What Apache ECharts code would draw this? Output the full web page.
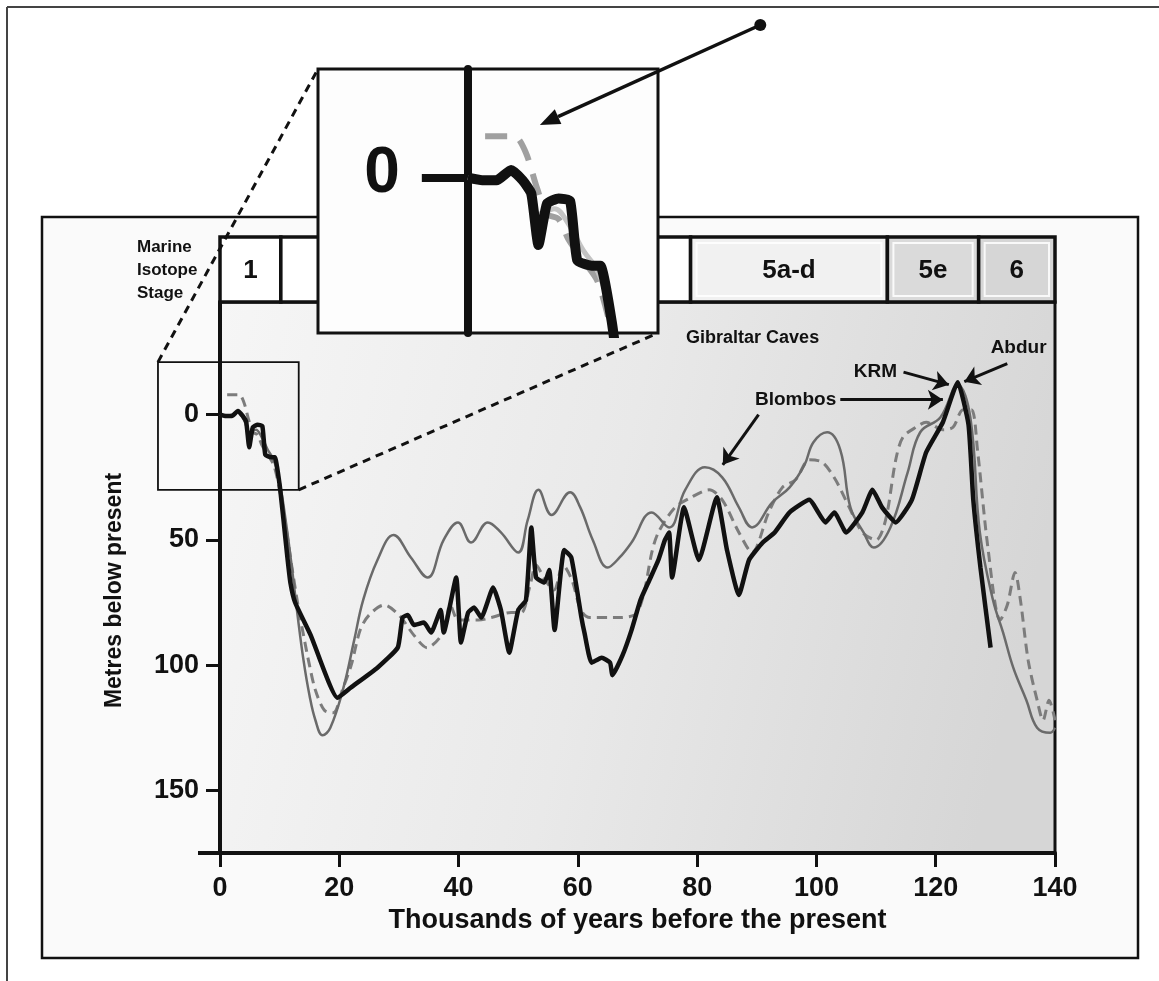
<!DOCTYPE html>
<html>
<head>
<meta charset="utf-8">
<script src="https://cdn.jsdelivr.net/npm/echarts@6/dist/echarts.min.js"></script>
<style>
  html, body { margin: 0; padding: 0; background: #ffffff; }
  #chart { width: 1159px; height: 981px; }
</style>
</head>
<body>
<div id="chart"></div>
<script>
// Sea level reconstructions: [thousands of years before present, metres below present]
const blackCurve = [
  [0,0],[1,0.5],[2,0.5],[3,-1.5],[3.8,0.5],[4.4,3],[4.9,13],[5.5,5],[6.3,4],[7.1,4.5],[7.6,16],[8.6,17],[9.2,17],
  [10,28],[10.6,41],[11.3,57],[11.8,67],[12.6,75],[15.2,88],[19.7,113],[21.9,109],[26.4,101],[29.8,93],[30.6,81],
  [31.5,80],[32.5,84],[34.2,83],[35.4,87],[37,78],[37.5,87],[39.6,65],[40.4,91],[41.6,79],[42.6,77],[43.8,81],
  [45.8,69],[47.1,78],[48.5,95],[50,78],[51.3,74],[52.2,45],[53,65],[54.4,67],[55.2,62],[56.1,86],[57.7,54],
  [58.9,57],[60.6,81],[61.1,87],[62.3,99],[64,97],[65.4,99],[65.8,104],[67.5,96],[69,86],[70.5,74],[72,66],
  [73.5,58],[74.6,50],[75.3,47],[75.8,65],[77.8,37],[80.3,58],[83.3,33],[85,54],[87,72],[88.7,58],[91,51],
  [93,47],[95.5,39],[98.8,34],[101.5,43],[103,39],[105,47],[107.7,39],[109.4,30],[111,37],[113.3,43],[116,34],
  [118.4,15],[121.2,3],[123.7,-13],[125.5,4],[126.3,34],[127.5,61],[129.2,93]
];
const greyCurve = [
  [0,0],[1,0.5],[2,0],[3,-1],[4,2],[5,7],[6,6],[7,9],[8,14],[9,18],[10,27],[11,42],[12,60],[13,80],[14,98],
  [15,112],[16,122],[17.2,128],[18.5,125],[20.7,109],[22.5,90],[24,74],[26.4,58],[29.1,48],[32,57],[34.8,65],
  [37.5,50],[39.9,43],[42.1,51],[44.9,43],[47.1,47],[50,55],[51.6,42],[53.4,30],[55.6,40],[58.7,31],[60.4,37],
  [62.5,50],[65,61],[67,57],[69,51],[72.4,39],[75.3,45],[78,30],[81.3,21],[84.2,25],[87,37],[89.2,45],[92.6,35],
  [95.5,29],[98,20],[99.5,11],[101.8,7],[104,14],[105.7,37],[107.9,47],[109.6,53],[112.4,45],[115.3,23],
  [117.4,7],[120.8,1],[123.7,-12],[125.8,1],[127.4,47],[129.6,74],[131.3,87],[133,101],[135.2,114],[137,125],
  [139.2,127],[140,125]
];
const dashedCurve = [
  [1.2,-8],[3.2,-8],[4,-5],[4.8,2],[5.5,7],[6.3,8],[7,12],[8,16],[9,20],[10,30],[11,44],[12,60],[13,75],[14,88],
  [15,100],[16,110],[17.5,118],[19,119],[20.5,110],[22,100],[23.5,86],[25,80],[27.5,76],[30,80],[32.5,88],
  [34.7,93],[37.4,87],[38.6,76],[40,82],[43.3,82],[45.5,81],[48.8,79],[50.5,79],[52,68],[53,60],[54.5,66],
  [56,70],[57.5,60],[59,66],[60.5,78],[62,81],[66,81],[69.5,80],[71,72],[72.4,55],[73.5,47],[76.3,37],[79,33],
  [82,30],[84.2,34],[87,47],[89.2,55],[92,39],[94.3,29],[96.5,26],[98.8,18],[101,19],[103.2,26],[105.5,37],
  [107.7,47],[110,50],[111.6,42],[113.3,18],[114.5,9],[116.7,5],[118.4,3],[121.2,6],[122.9,5],[124.6,-2],
  [126,-2],[127,14],[128.8,54],[130.8,82],[132,76],[133.3,63],[134.2,74],[135.5,98],[137,114],[138,122],
  [139,114],[140,122]
];

// Marine isotope stage bar
const stageNames = ['1', '', '', '', '5a-d', '5e', '6'];
const stageStart = [0, 10.2, 25, 57, 78.9, 111.9, 127.2];
const stageEnd = [10.2, 25, 57, 78.9, 111.9, 127.2, 140];

// Axis ticks
const ageTicks = [0, 20, 40, 60, 80, 100, 120, 140];
const depthTicks = [0, 50, 100, 150];
const insetTicks = [0];

// Site annotations (text, then arrow tail -> head), in age/depth units
const noteText = ['Gibraltar Caves', 'Blombos', 'KRM', 'Abdur'];
const notePos = [[89.3, -30.7], [96.5, -6], [109.9, -17.2], [133.9, -26.7]];
const arrowFrom = [[90.3, 0], [104, -6], [114.6, -17], [132, -20.4]];
const arrowTo = [[84.3, 20], [121.2, -6], [122.2, -12], [124.8, -13.2]];

// Magnified window (age range, depth range)
const zoomAge = [-10.4, 13.2];
const zoomDepth = [-21, 30];

const FONT = "'Liberation Sans', Arial, Helvetica, sans-serif";
const INK = '#111111';

const stageFill = ['#ffffff', '#ffffff', '#ffffff', '#ffffff', '#f1f1f1', '#dadada', '#d6d6d6'];

const chart = echarts.init(document.getElementById('chart'), null, { renderer: 'canvas' });

function curveSeries(name, data, axisIdx, style, z, smooth) {
  return {
    name: name, type: 'line', data: data, xAxisIndex: axisIdx, yAxisIndex: axisIdx,
    showSymbol: false, symbol: 'none', smooth: smooth, z: z, silent: true,
    lineStyle: style, clip: true
  };
}

const annotationSeries = {
  name: 'sites', type: 'scatter', xAxisIndex: 0, yAxisIndex: 0, data: [], z: 8, silent: true,
  markPoint: {
    symbol: 'circle', symbolSize: 1, silent: true, animation: false,
    itemStyle: { color: 'rgba(0,0,0,0)' },
    label: {
      show: true, position: 'inside', color: INK, fontFamily: FONT, fontWeight: 'bold', fontSize: 19,
      formatter: function (p) { return p.name; }
    },
    data: noteText.map(function (t, i) {
      return { name: t, coord: notePos[i], label: { fontSize: i === 0 ? 18 : 19 } };
    })
  },
  markLine: {
    silent: true, animation: false, symbol: ['none', 'arrow'], symbolSize: 15,
    label: { show: false },
    lineStyle: { color: INK, width: 3, type: 'solid' },
    data: arrowFrom.map(function (a, i) { return [{ coord: a }, { coord: arrowTo[i] }]; })
  }
};

const option = {
  animation: false,
  backgroundColor: '#ffffff',
  grid: [
    { // main plot
      left: 220, top: 302, width: 835, height: 551, show: true,
      borderColor: INK, borderWidth: 3,
      backgroundColor: {
        type: 'linear', x: 0, y: 0, x2: 1, y2: 0.35,
        colorStops: [
          { offset: 0, color: '#f6f6f6' },
          { offset: 0.5, color: '#e9e9e9' },
          { offset: 1, color: '#d6d6d6' }
        ]
      }
    },
    { left: 220, top: 237, width: 835, height: 65, show: false },  // stage bar
    { // magnified window
      left: 318, top: 69, width: 340, height: 264, show: true, z: 10,
      borderColor: INK, borderWidth: 3, backgroundColor: '#fdfdfd'
    }
  ],
  xAxis: [
    {
      gridIndex: 0, type: 'value', min: 0, max: 140, interval: 20,
      name: 'Thousands of years before the present', nameLocation: 'middle', nameGap: 52,
      nameTextStyle: { fontFamily: FONT, fontWeight: 'bold', fontSize: 27, color: INK },
      axisLine: { show: true, onZero: false, lineStyle: { color: INK, width: 4 } },
      axisTick: { show: true, inside: false, length: 14, lineStyle: { color: INK, width: 3 },
                  customValues: ageTicks },
      axisLabel: { fontFamily: FONT, fontWeight: 'bold', fontSize: 27, color: INK, margin: 22,
                   customValues: ageTicks },
      splitLine: { show: false }
    },
    { gridIndex: 1, type: 'value', min: 0, max: 140, show: false },
    { gridIndex: 2, type: 'value', min: zoomAge[0], max: zoomAge[1], show: false }
  ],
  yAxis: [
    {
      gridIndex: 0, type: 'value', inverse: true, min: -45, max: 175,
      name: 'Metres below present', nameLocation: 'middle', nameGap: 94,
      nameTextStyle: { fontFamily: FONT, fontWeight: 'bold', fontSize: 23, color: INK, padding: [0, 26, 0, 0] },
      axisLine: { show: true, onZero: false, lineStyle: { color: INK, width: 4 } },
      axisTick: { show: true, inside: false, length: 14, lineStyle: { color: INK, width: 3 },
                  customValues: depthTicks },
      axisLabel: { fontFamily: FONT, fontWeight: 'bold', fontSize: 27, color: INK, margin: 21,
                   customValues: depthTicks },
      splitLine: { show: false }
    },
    { gridIndex: 1, type: 'value', min: 0, max: 1, show: false },
    {
      gridIndex: 2, type: 'value', inverse: true, min: zoomDepth[0], max: zoomDepth[1], z: 11,
      axisLine: { show: true, onZero: true, lineStyle: { color: INK, width: 8 } },
      axisTick: { show: true, inside: false, length: 46, lineStyle: { color: INK, width: 8 },
                  customValues: insetTicks },
      axisLabel: { show: false },
      splitLine: { show: false }
    }
  ],
  series: [
    {
      name: 'stages', type: 'custom', xAxisIndex: 1, yAxisIndex: 1, z: 3, silent: true,
      data: stageStart.map(function (s, i) { return [s, stageEnd[i], i]; }),
      encode: { x: [0, 1] },
      renderItem: function (params, api) {
        const p0 = api.coord([api.value(0), 1]);
        const p1 = api.coord([api.value(1), 0]);
        const idx = api.value(2);
        const w = p1[0] - p0[0], h = p1[1] - p0[1];
        return {
          type: 'group',
          children: [
            { type: 'rect', shape: { x: p0[0], y: p0[1], width: w, height: h },
              style: { fill: stageFill[idx], stroke: INK, lineWidth: 3.5 } },
            { type: 'rect', shape: { x: p0[0] + 6, y: p0[1] + 6, width: w - 12, height: h - 12 },
              style: { fill: 'none', stroke: 'rgba(255,255,255,0.85)', lineWidth: 2 } },
            { type: 'text', style: {
                text: stageNames[idx], x: p0[0] + w / 2, y: p0[1] + h / 2 + 1,
                align: 'center', verticalAlign: 'middle',
                fontFamily: FONT, fontWeight: 'bold', fontSize: 26, fill: INK } }
          ]
        };
      }
    },
    curveSeries('dashed', dashedCurve, 0, { color: '#7c7c7c', width: 3, type: [10, 6] }, 4, 0.3),
    curveSeries('grey', greyCurve, 0, { color: '#6a6a6a', width: 2.5 }, 5, 0.4),
    curveSeries('black', blackCurve, 0, { color: INK, width: 4.5 }, 6, 0.15),
    annotationSeries,
    // magnified copies
    curveSeries('dashed-zoom', dashedCurve, 2, { color: '#a0a0a0', width: 6, type: [22, 14] }, 12, 0.3),
    curveSeries('grey-zoom', greyCurve, 2, { color: '#c4c4c4', width: 5 }, 13, 0.4),
    curveSeries('black-zoom', blackCurve, 2, { color: INK, width: 10 }, 14, 0.15)
  ]
};

chart.setOption(option);

// Frames, magnifier outline, connectors and pointer
function px(gridAxes, v) { return chart.convertToPixel(gridAxes, v); }
const mainAxes = { xAxisIndex: 0, yAxisIndex: 0 };
const zoomAxes = { xAxisIndex: 2, yAxisIndex: 2 };

const boxTL = px(mainAxes, [zoomAge[0], zoomDepth[0]]);
const boxBR = px(mainAxes, [zoomAge[1], zoomDepth[1]]);
const winTL = px(zoomAxes, [zoomAge[0], zoomDepth[0]]);
const winBR = px(zoomAxes, [zoomAge[1], zoomDepth[1]]);
const zoomZero = px(zoomAxes, [0, insetTicks[0]]);
const axisOrigin = px(mainAxes, [0, 175]);
const tip = px(zoomAxes, [5, -10.2]);
const tail = px(zoomAxes, [20.3, -29.5]);

const ang = Math.atan2(tip[1] - tail[1], tip[0] - tail[0]);
const headLen = 20, headHalf = 8;
const baseX = tip[0] - headLen * Math.cos(ang), baseY = tip[1] - headLen * Math.sin(ang);
const nx = -Math.sin(ang), ny = Math.cos(ang);

chart.setOption({
  graphic: [
    // page edges
    { type: 'line', z: 30, shape: { x1: 7, y1: 7, x2: 1159, y2: 7 }, style: { stroke: '#444', lineWidth: 2 } },
    { type: 'line', z: 30, shape: { x1: 7, y1: 7, x2: 7, y2: 981 }, style: { stroke: '#444', lineWidth: 2 } },
    // figure frame
    { type: 'rect', z: -5, shape: { x: 42, y: 217, width: 1096, height: 741 },
      style: { fill: '#fafafa', stroke: INK, lineWidth: 2.5 } },
    // axis line stub left of origin
    { type: 'line', z: 5, shape: { x1: axisOrigin[0] - 22, y1: axisOrigin[1], x2: axisOrigin[0], y2: axisOrigin[1] },
      style: { stroke: INK, lineWidth: 4 } },
    // stage caption
    { type: 'text', z: 20, style: {
        text: 'Marine\nIsotope\nStage', x: 137, y: 236, fontFamily: FONT, fontWeight: 'bold',
        fontSize: 17, lineHeight: 23, fill: INK } },
    // tick label of the magnified axis
    { type: 'text', z: 30, style: {
        text: String(insetTicks[0]), x: zoomZero[0] - 68, y: zoomZero[1] - 3,
        align: 'right', verticalAlign: 'middle',
        fontFamily: FONT, fontWeight: 'bold', fontSize: 64, fill: INK } },
    // magnified region outline
    { type: 'rect', z: 20, shape: { x: boxTL[0], y: boxTL[1], width: boxBR[0] - boxTL[0], height: boxBR[1] - boxTL[1] },
      style: { fill: 'none', stroke: INK, lineWidth: 1.8 } },
    // connectors to the magnified window
    { type: 'line', z: 20, shape: { x1: boxTL[0], y1: boxTL[1], x2: winTL[0], y2: winTL[1] },
      style: { stroke: INK, lineWidth: 3, lineDash: [8, 6] } },
    { type: 'line', z: 20, shape: { x1: boxBR[0], y1: boxBR[1], x2: winBR[0], y2: winBR[1] },
      style: { stroke: INK, lineWidth: 3, lineDash: [8, 6] } },
    // pointer into the magnified window
    { type: 'line', z: 25, shape: { x1: tail[0], y1: tail[1], x2: baseX, y2: baseY },
      style: { stroke: INK, lineWidth: 3.5 } },
    { type: 'polygon', z: 25, shape: { points: [
        [tip[0], tip[1]],
        [baseX + nx * headHalf, baseY + ny * headHalf],
        [baseX - nx * headHalf, baseY - ny * headHalf]
      ] }, style: { fill: INK } },
    { type: 'circle', z: 25, shape: { cx: tail[0], cy: tail[1], r: 6 }, style: { fill: INK } }
  ]
});
</script>
</body>
</html>
